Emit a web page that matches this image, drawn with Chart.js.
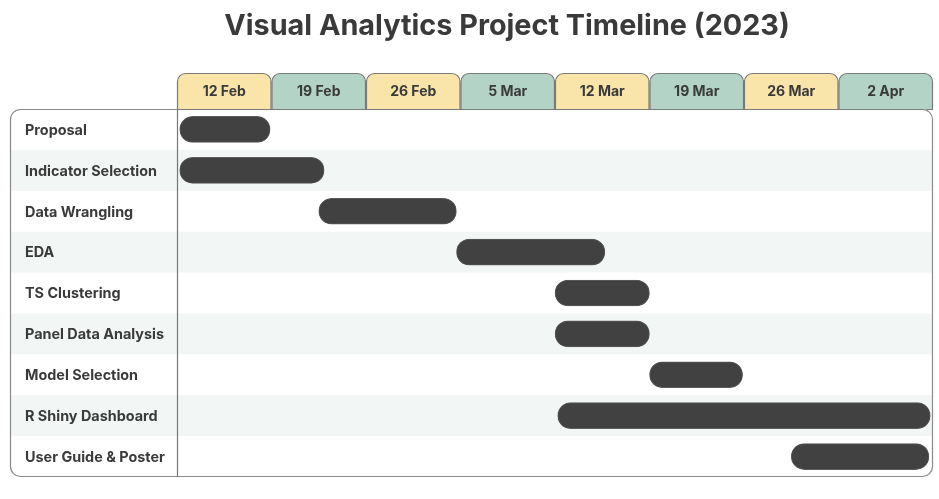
<!DOCTYPE html>
<html>
<head>
<meta charset="utf-8">
<script src="https://cdn.jsdelivr.net/npm/chart.js@4"></script>
<style>
  html, body { margin: 0; padding: 0; background: #ffffff; }
  #wrap { width: 939px; height: 499px; }
</style>
</head>
<body>
<div id="wrap"><canvas id="c" width="939" height="499"></canvas></div>
<script>
// ---- data (days counted from 12 Feb 2023) ----
const chartTitle = 'Visual Analytics Project Timeline (2023)';
const tasks = ['Proposal', 'Indicator Selection', 'Data Wrangling', 'EDA', 'TS Clustering',
               'Panel Data Analysis', 'Model Selection', 'R Shiny Dashboard', 'User Guide & Poster'];
const startDays = [0.2, 0.2, 10.5, 20.7, 28.0, 28.0, 35.0, 28.2, 45.5];
const endDays   = [6.9, 10.9, 20.7, 31.7, 35.0, 35.0, 41.9, 55.8, 55.7];
const weekLabels = ['12 Feb', '19 Feb', '26 Feb', '5 Mar', '12 Mar', '19 Mar', '26 Mar', '2 Apr'];
const daysPerWeek = 7;

const FONT = 'Inter, Roboto, "Liberation Sans", sans-serif';
const TAB_COLORS = ['#f9e4a9', '#b3d3c6'];
const STRIPE = '#f2f6f5';
const TEXT = '#3a3a3a';
const BORDER = '#8a8a8a';

function roundRectPath(ctx, x, y, w, h, r) {
  ctx.beginPath();
  ctx.moveTo(x + r.tl, y);
  ctx.lineTo(x + w - r.tr, y);
  ctx.arcTo(x + w, y, x + w, y + r.tr, r.tr);
  ctx.lineTo(x + w, y + h - r.br);
  ctx.arcTo(x + w, y + h, x + w - r.br, y + h, r.br);
  ctx.lineTo(x + r.bl, y + h);
  ctx.arcTo(x, y + h, x, y + h - r.bl, r.bl);
  ctx.lineTo(x, y + r.tl);
  ctx.arcTo(x, y, x + r.tl, y, r.tl);
  ctx.closePath();
}

const timelinePlugin = {
  id: 'timelineDecor',
  beforeDatasetsDraw(chart) {
    const ctx = chart.ctx;
    const xs = chart.scales.x, ys = chart.scales.y;
    const area = chart.chartArea;
    const panelLeft = 10;
    const rowH = (area.bottom - area.top) / tasks.length;
    ctx.save();
    ctx.fillStyle = '#ffffff';
    ctx.fillRect(0, 0, chart.width, chart.height);

    // title
    ctx.fillStyle = TEXT;
    ctx.font = 'bold 28.8px ' + FONT;
    ctx.textAlign = 'center';
    ctx.textBaseline = 'middle';
    ctx.fillText(chartTitle, 507, 26);

    // week tabs
    const tabTop = 73;
    weekLabels.forEach((lab, i) => {
      const x0 = xs.getPixelForValue(i * daysPerWeek);
      const x1 = xs.getPixelForValue((i + 1) * daysPerWeek);
      roundRectPath(ctx, x0 + 0.5, tabTop + 0.5, x1 - x0 - 1, area.top - tabTop,
                    {tl: 8, tr: 8, br: 0, bl: 0});
      ctx.fillStyle = TAB_COLORS[i % 2];
      ctx.fill();
      ctx.strokeStyle = '#7a7a7a';
      ctx.lineWidth = 1.2;
      ctx.stroke();
      ctx.fillStyle = TEXT;
      ctx.font = 'bold 14px ' + FONT;
      ctx.textAlign = 'center';
      ctx.textBaseline = 'middle';
      ctx.fillText(lab, (x0 + x1) / 2, 92);
    });

    // panel + stripes
    roundRectPath(ctx, panelLeft, area.top, area.right - panelLeft, area.bottom - area.top,
                  {tl: 10, tr: 10, br: 10, bl: 10});
    ctx.fillStyle = '#ffffff';
    ctx.fill();
    ctx.save();
    ctx.clip();
    tasks.forEach((t, i) => {
      if (i % 2 === 1) {
        const yc = ys.getPixelForValue(i);
        ctx.fillStyle = STRIPE;
        ctx.fillRect(panelLeft, yc - rowH / 2, area.right - panelLeft, rowH);
      }
    });
    ctx.restore();

    // panel border
    roundRectPath(ctx, panelLeft + 0.5, area.top + 0.5, area.right - panelLeft - 1, area.bottom - area.top - 1,
                  {tl: 10, tr: 10, br: 10, bl: 10});
    ctx.strokeStyle = BORDER;
    ctx.lineWidth = 1.2;
    ctx.stroke();
    ctx.beginPath();
    ctx.moveTo(area.left, area.top + 0.5);
    ctx.lineTo(area.right - 10, area.top + 0.5);
    ctx.strokeStyle = '#7a7a7a';
    ctx.stroke();

    // separator line
    ctx.beginPath();
    ctx.moveTo(area.left + 0.5, area.top);
    ctx.lineTo(area.left + 0.5, area.bottom);
    ctx.strokeStyle = '#777777';
    ctx.lineWidth = 1.2;
    ctx.stroke();

    // row labels
    ctx.fillStyle = TEXT;
    ctx.font = 'bold 14.4px ' + FONT;
    ctx.textAlign = 'left';
    ctx.textBaseline = 'middle';
    tasks.forEach((t, i) => {
      ctx.fillText(t, 25, ys.getPixelForValue(i) + 1);
    });
    ctx.restore();
  }
};

const ctx = document.getElementById('c').getContext('2d');
new Chart(ctx, {
  type: 'bar',
  data: {
    labels: tasks,
    datasets: [{
      data: tasks.map((t, i) => [startDays[i], endDays[i]]),
      backgroundColor: '#414141',
      borderColor: '#5c5c5c',
      borderWidth: 1,
      borderSkipped: false,
      borderRadius: 14,
      barThickness: 26
    }]
  },
  options: {
    indexAxis: 'y',
    responsive: false,
    animation: false,
    devicePixelRatio: 1,
    layout: { padding: { left: 177, right: 6, top: 109, bottom: 22 } },
    scales: {
      x: { type: 'linear', min: 0, max: weekLabels.length * daysPerWeek, display: false },
      y: { type: 'category', display: false, offset: true }
    },
    plugins: {
      legend: { display: false },
      tooltip: { enabled: false },
      title: { display: false }
    }
  },
  plugins: [timelinePlugin]
});
</script>
</body>
</html>
